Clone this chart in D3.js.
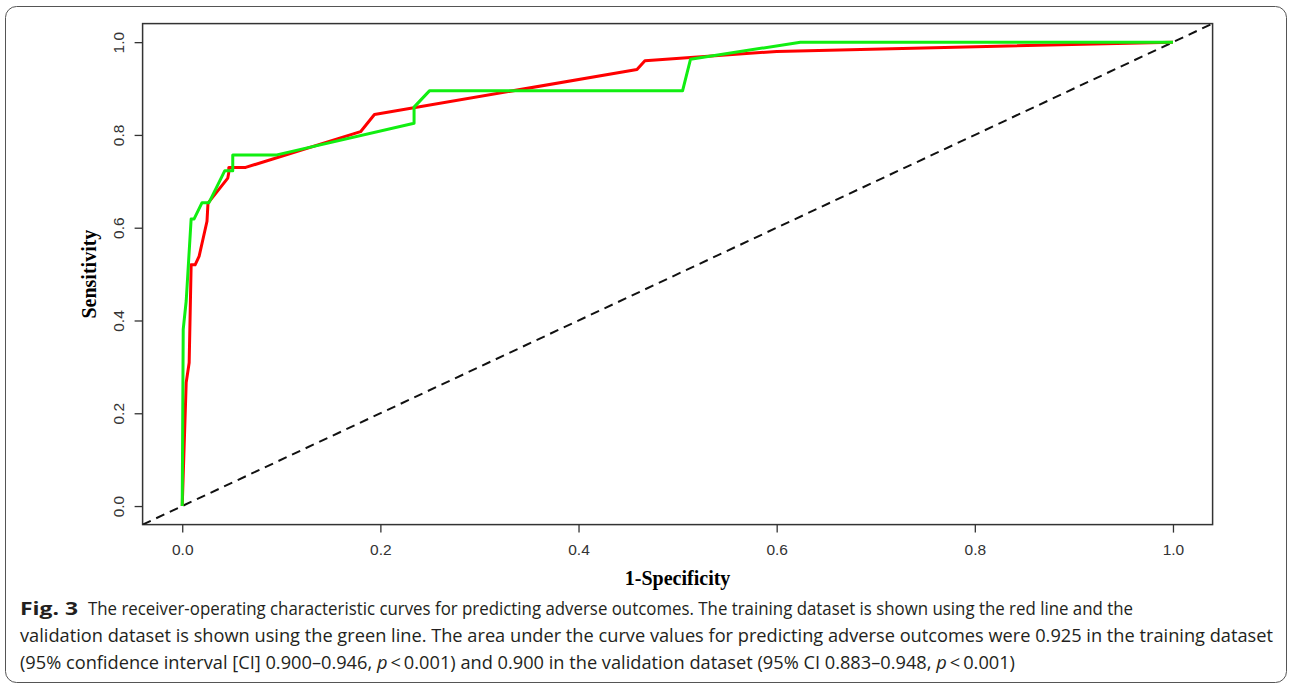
<!DOCTYPE html>
<html>
<head>
<meta charset="utf-8">
<script src="https://cdn.jsdelivr.net/npm/d3@7"></script>
<style>
  body { margin: 0; background: #fff; }
  svg { display: block; }
</style>
</head>
<body>
<svg id="chart" width="1290" height="686"></svg>
<script>
// ROC points (1-specificity, sensitivity)
const fprTrain = [0, 0.004, 0.007, 0.009, 0.013, 0.017, 0.025, 0.026, 0.046, 0.047, 0.047, 0.064, 0.180, 0.194, 0.459, 0.467, 0.600, 1.0];
const tprTrain = [0, 0.266, 0.309, 0.520, 0.520, 0.538, 0.614, 0.653, 0.707, 0.719, 0.730, 0.730, 0.807, 0.844, 0.941, 0.960, 0.980, 1.0];
const fprValid = [0, 0.001, 0.004, 0.009, 0.012, 0.020, 0.027, 0.043, 0.051, 0.051, 0.0955, 0.234, 0.234, 0.2495, 0.505, 0.513, 0.624, 1.0];
const tprValid = [0, 0.381, 0.442, 0.619, 0.619, 0.654, 0.654, 0.723, 0.723, 0.757, 0.757, 0.825, 0.860, 0.895, 0.895, 0.963, 1.0, 1.0];
const tickValues = [0, 0.2, 0.4, 0.6, 0.8, 1.0];
const xTitle = "1-Specificity";
const yTitle = "Sensitivity";

const svg = d3.select("#chart");

// outer figure frame
svg.append("rect")
  .attr("x", 5.5).attr("y", 6.5)
  .attr("width", 1281).attr("height", 676)
  .attr("rx", 11).attr("ry", 11)
  .attr("fill", "none")
  .attr("stroke", "#555")
  .attr("stroke-width", 1);

// R-style 4% padding on both axes
const x = d3.scaleLinear().domain([-0.04, 1.04]).range([142.6, 1212.6]);
const y = d3.scaleLinear().domain([-0.04, 1.04]).range([524.6, 23.6]);

// plot box
svg.append("rect")
  .attr("x", x(-0.04)).attr("y", y(1.04))
  .attr("width", x(1.04) - x(-0.04)).attr("height", y(-0.04) - y(1.04))
  .attr("fill", "none")
  .attr("stroke", "#333")
  .attr("stroke-width", 1.5);

// axes
const fmt = d3.format(".1f");
const xAxis = svg.append("g")
  .attr("transform", `translate(0,${y(-0.04)})`)
  .call(d3.axisBottom(x).tickValues(tickValues).tickSize(8).tickPadding(11).tickFormat(fmt));
xAxis.select(".domain").remove();
xAxis.selectAll("line").attr("stroke", "#333").attr("stroke-width", 1.3);
xAxis.selectAll("text")
  .attr("fill", "#333")
  .style("font-family", "'Liberation Sans', Arial, sans-serif")
  .style("font-size", "15.5px");

const yAxis = svg.append("g")
  .attr("transform", `translate(${x(-0.04)},0)`)
  .call(d3.axisLeft(y).tickValues(tickValues).tickSize(8).tickFormat(fmt));
yAxis.select(".domain").remove();
yAxis.selectAll("line").attr("stroke", "#333").attr("stroke-width", 1.3);
yAxis.selectAll("text")
  .attr("x", null).attr("dy", null)
  .attr("text-anchor", "middle")
  .attr("transform", "translate(-19,0) rotate(-90)")
  .attr("fill", "#333")
  .style("font-family", "'Liberation Sans', Arial, sans-serif")
  .style("font-size", "15.5px");

// axis titles
svg.append("text")
  .attr("x", (x(0) + x(1)) / 2).attr("y", 585)
  .attr("text-anchor", "middle")
  .style("font-family", "'Liberation Serif', 'Times New Roman', serif")
  .style("font-weight", "bold")
  .style("font-size", "20px")
  .text(xTitle);

svg.append("text")
  .attr("transform", `translate(96,${(y(0) + y(1)) / 2}) rotate(-90)`)
  .attr("text-anchor", "middle")
  .style("font-family", "'Liberation Serif', 'Times New Roman', serif")
  .style("font-weight", "bold")
  .style("font-size", "20px")
  .text(yTitle);

// clip to the plot box
svg.append("clipPath").attr("id", "plotClip")
  .append("rect")
  .attr("x", x(-0.04)).attr("y", y(1.04))
  .attr("width", x(1.04) - x(-0.04)).attr("height", y(-0.04) - y(1.04));

const plot = svg.append("g").attr("clip-path", "url(#plotClip)");

// reference diagonal
plot.append("line")
  .attr("x1", x(-0.04)).attr("y1", y(-0.04))
  .attr("x2", x(1.04)).attr("y2", y(1.04))
  .attr("stroke", "#111")
  .attr("stroke-width", 2)
  .attr("stroke-dasharray", "9,6");

const line = d3.line().x(d => x(d[0])).y(d => y(d[1]));

plot.append("path")
  .datum(d3.zip(fprTrain, tprTrain))
  .attr("d", line)
  .attr("fill", "none")
  .attr("stroke", "#ff0000")
  .attr("stroke-width", 3)
  .attr("stroke-linejoin", "round");

plot.append("path")
  .datum(d3.zip(fprValid, tprValid))
  .attr("d", line)
  .attr("fill", "none")
  .attr("stroke", "#11ee11")
  .attr("stroke-width", 3)
  .attr("stroke-linejoin", "round");

// caption
const capFont = "'Open Sans', 'Noto Sans', sans-serif";
const cap = svg.append("g").style("font-family", capFont).style("font-size", "18px").attr("fill", "#231f20");

cap.append("text")
  .attr("x", 20).attr("y", 615)
  .style("font-weight", "bold")
  .attr("textLength", 58).attr("lengthAdjust", "spacingAndGlyphs")
  .text("Fig. 3");

cap.append("text")
  .attr("x", 88).attr("y", 615)
  .attr("textLength", 1045).attr("lengthAdjust", "spacingAndGlyphs")
  .text("The receiver-operating characteristic curves for predicting adverse outcomes. The training dataset is shown using the red line and the");

cap.append("text")
  .attr("x", 20).attr("y", 642)
  .attr("textLength", 1253).attr("lengthAdjust", "spacingAndGlyphs")
  .text("validation dataset is shown using the green line. The area under the curve values for predicting adverse outcomes were 0.925 in the training dataset");

const l3 = cap.append("text")
  .attr("x", 20).attr("y", 669)
  .attr("textLength", 995).attr("lengthAdjust", "spacingAndGlyphs");
l3.append("tspan").text("(95% confidence interval [CI] 0.900–0.946, ");
l3.append("tspan").style("font-style", "italic").text("p");
l3.append("tspan").text("\u2009<\u20090.001) and 0.900 in the validation dataset (95% CI 0.883–0.948, ");
l3.append("tspan").style("font-style", "italic").text("p");
l3.append("tspan").text("\u2009<\u20090.001)");
</script>
</body>
</html>
